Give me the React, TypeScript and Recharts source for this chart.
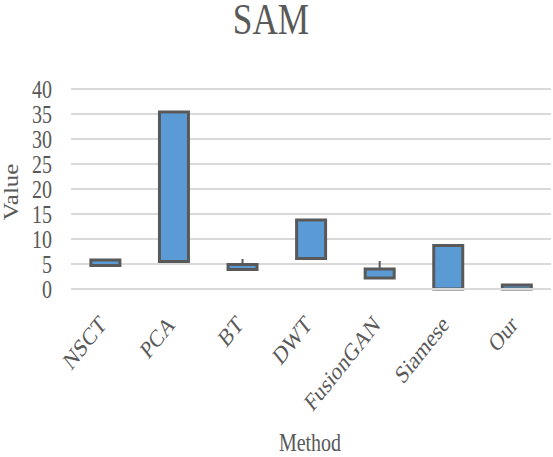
import React from 'react';
import { BarChart, Bar, XAxis, YAxis, CartesianGrid } from 'recharts';

const methods = ['NSCT', 'PCA', 'BT', 'DWT', 'FusionGAN', 'Siamese', 'Our'];
const lowValues = [4.7, 5.5, 3.9, 6.1, 2.2, 0, 0];
const highValues = [5.8, 35.4, 4.9, 13.8, 4.0, 8.7, 0.8];
const whiskerValues: (number | null)[] = [null, null, 6.0, null, 5.6, null, null];
const yTicks = [0, 5, 10, 15, 20, 25, 30, 35, 40];

const data = methods.map((m, i) => ({
  method: m,
  range: [lowValues[i], highValues[i]],
  low: lowValues[i],
  high: highValues[i],
  whisker: whiskerValues[i],
}));

const FONT = '"Liberation Serif", "Times New Roman", serif';
const TEXT = '#595959';
const SX = 0.8;

const BoxShape = (props: any) => {
  const { x, y, width, height, payload } = props;
  const top = Math.min(y, y + height);
  const h = Math.abs(height);
  const span = payload.high - payload.low;
  const ppu = span > 0 ? h / span : 0;
  let whiskerEl = null;
  if (payload.whisker != null && ppu > 0) {
    const wy = top - (payload.whisker - payload.high) * ppu;
    const cx = x + width / 2;
    whiskerEl = <line x1={cx} x2={cx} y1={top} y2={wy} stroke="#595959" strokeWidth={2} />;
  }
  return (
    <g>
      {whiskerEl}
      <rect x={x} y={top} width={width} height={h} fill="#5B9BD5" stroke="#595959" strokeWidth={3} />
    </g>
  );
};

const XTick = (props: any) => {
  const { x, y, payload } = props;
  return (
    <g transform={`translate(${x + 2},${y + 29}) scale(${SX},1) rotate(-45)`}>
      <text x={0} y={0} textAnchor="end" fontFamily={FONT} fontSize={25} fill={TEXT}>
        {payload.value}
      </text>
    </g>
  );
};

const YTick = (props: any) => {
  const { y, payload } = props;
  return (
    <g transform={`translate(52,${y}) scale(${SX},1)`}>
      <text x={0} y={0} dy="0.34em" textAnchor="end" fontFamily={FONT} fontSize={25} fill={TEXT}>
        {payload.value}
      </text>
    </g>
  );
};

export default function App() {
  return (
    <div style={{ position: 'absolute', left: 0, top: 0, width: 553, height: 457, background: '#fff' }}>
      <BarChart
        width={553}
        height={457}
        data={data}
        margin={{ top: 89, right: 2, left: 0, bottom: 0 }}
        barCategoryGap="29%"
      >
        <g transform={`translate(271,34) scale(${SX},1)`}>
          <text x={0} y={0} textAnchor="middle" fontFamily={FONT} fontSize={44} fill={TEXT}>
            SAM
          </text>
        </g>
        <g transform={`translate(18,192) scale(${SX},1) rotate(-90)`}>
          <text x={0} y={0} textAnchor="middle" fontFamily={FONT} fontSize={25} fill={TEXT}>
            Value
          </text>
        </g>
        <g transform={`translate(310,451) scale(${SX},1)`}>
          <text x={0} y={0} textAnchor="middle" fontFamily={FONT} fontSize={25} fill={TEXT}>
            Method
          </text>
        </g>
        <CartesianGrid vertical={false} stroke="#d9d9d9" strokeWidth={2} />
        <XAxis
          dataKey="method"
          axisLine={{ stroke: '#d9d9d9', strokeWidth: 2 }}
          tickLine={false}
          tick={<XTick />}
          interval={0}
          height={168}
        />
        <YAxis
          domain={[0, 40]}
          ticks={yTicks}
          interval={0}
          axisLine={false}
          tickLine={false}
          width={71}
          tick={<YTick />}
        />
        <Bar dataKey="range" shape={<BoxShape />} isAnimationActive={false} />
      </BarChart>
    </div>
  );
}
